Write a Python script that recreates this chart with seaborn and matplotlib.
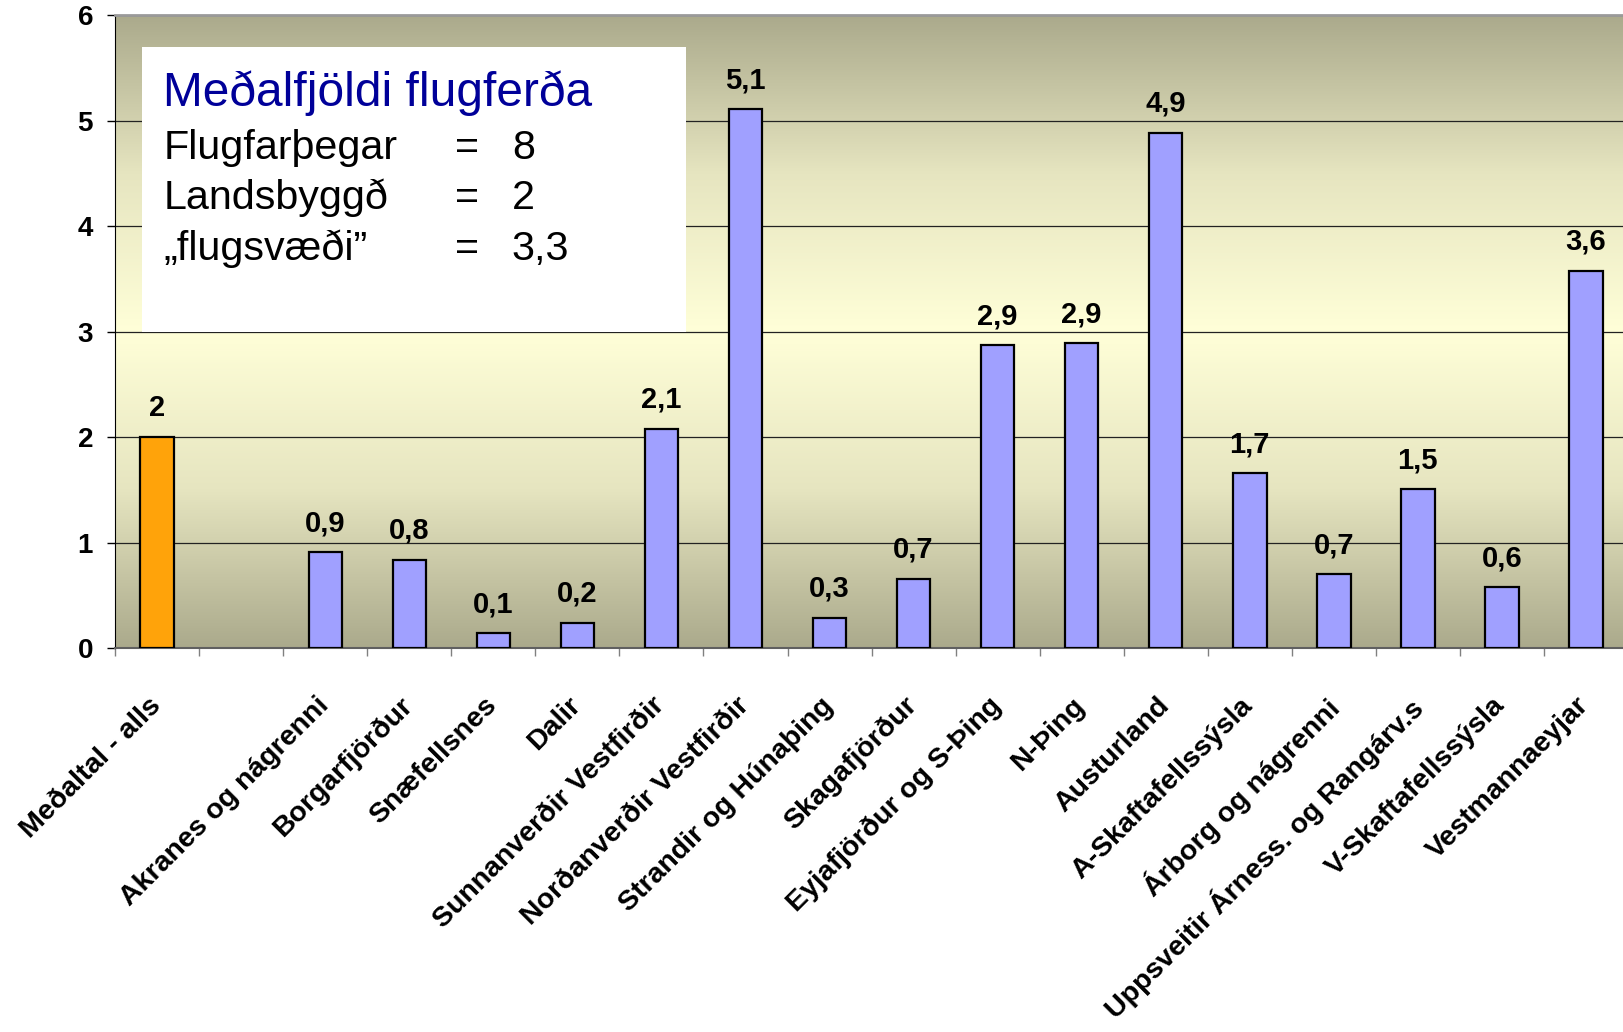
import matplotlib
matplotlib.use('Agg')
import matplotlib.pyplot as plt
import numpy as np
import pandas as pd
import seaborn as sns
from matplotlib.colors import LinearSegmentedColormap
from matplotlib.patches import Rectangle
from matplotlib.transforms import ScaledTranslation

# data
regions = ['Meðaltal - alls', 'Akranes og nágrenni', 'Borgarfjörður',
           'Snæfellsnes', 'Dalir', 'Sunnanverðir Vestfirðir',
           'Norðanverðir Vestfirðir', 'Strandir og Húnaþing',
           'Skagafjörður', 'Eyjafjörður og S-Þing', 'N-Þing', 'Austurland',
           'A-Skaftafellssýsla', 'Árborg og nágrenni',
           'Uppsveitir Árness. og Rangárv.s', 'V-Skaftafellssýsla',
           'Vestmannaeyjar']
trips = [2.0, 0.91, 0.84, 0.14, 0.24, 2.08, 5.11, 0.29, 0.66, 2.87, 2.89,
         4.89, 1.66, 0.70, 1.51, 0.58, 3.58]
# blank slot after the average bar
order = [regions[0], ''] + regions[1:]

box_title = 'Meðalfjöldi flugferða'
box_names = ['Flugfarþegar', 'Landsbyggð', '\u201eflugsvæði\u201d']
box_values = ['8', '2', '3,3']

df = pd.DataFrame({'region': regions, 'trips': trips})
palette = {r: '#A0A0FF' for r in regions}
palette[regions[0]] = '#FFA30A'

plain = ['Liberation Sans', 'DejaVu Sans']

fig = plt.figure(figsize=(16.23, 10.32), dpi=100)
ax = fig.add_axes([0.0710, 0.372, 0.932, 0.613])

# olive -> light yellow -> olive background
cmap = LinearSegmentedColormap.from_list(
    'bg', ['#ABAA8C', '#E6E5C0', '#FFFFD8', '#E6E5C0', '#ABAA8C'])
ax.imshow(np.linspace(0, 1, 256).reshape(-1, 1), cmap=cmap, aspect='auto',
          extent=[-0.5, 17.5, 0, 6], zorder=0, origin='lower')

sns.barplot(data=df, x='region', y='trips', hue='region', order=order,
            hue_order=regions, palette=palette, legend=False, width=0.4,
            edgecolor='black', linewidth=1.6, saturation=1, zorder=3, ax=ax)

ax.set_xlim(-0.5, 17.5)
ax.set_ylim(0, 6)
ax.set_xlabel('')
ax.set_ylabel('')

ax.set_axisbelow(True)
ax.yaxis.grid(True, color='#222222', linewidth=0.9)
ax.xaxis.grid(False)

ax.set_yticks(range(7))
ax.set_yticklabels([str(i) for i in range(7)], family=plain,
                   fontsize=20, fontweight='bold')
ax.tick_params(axis='y', length=6, width=1, pad=10, color='black')

ax.set_xticks(range(len(order)))
ax.set_xticklabels(order, rotation=45, ha='right', va='top',
                   rotation_mode='anchor', family=plain, fontsize=20.5,
                   fontweight='bold')
ax.set_xticks(np.arange(-0.5, 18, 1), minor=True)
ax.tick_params(axis='x', which='major', length=0, pad=32)
ax.tick_params(axis='x', which='minor', length=6, width=1, color='#808080')

ax.spines['top'].set_color('#9A9A9A')
ax.spines['top'].set_linewidth(2)
ax.spines['right'].set_visible(False)
ax.spines['left'].set_color('black')
ax.spines['bottom'].set_color('#606060')
ax.spines['bottom'].set_linewidth(1.5)

# value labels above bars
for i, (r, v) in enumerate(zip(regions, trips)):
    pos = order.index(r)
    txt = f'{v:.1f}'.replace('.', ',')
    if txt.endswith(',0'):
        txt = txt[:-2]
    ax.annotate(txt, (pos, v), xytext=(0, 15), textcoords='offset points',
                ha='center', va='baseline', family=plain, fontsize=21,
                fontweight='bold', zorder=5)

# white info box
ax.add_patch(Rectangle((-0.18, 3.0), 6.47, 2.70, facecolor='white',
                       edgecolor='none', zorder=1))
ax.text(0.07, 5.14, box_title, color='#000099', family=plain, fontsize=34.5,
        va='baseline', zorder=2)
for k, (name, val) in enumerate(zip(box_names, box_values)):
    y = 4.64 - k * 0.48
    ax.text(0.07, y, name, family=plain, fontsize=29.7, va='baseline', zorder=2)
    ax.text(3.54, y, '=', family=plain, fontsize=29.7, va='baseline', zorder=2)
    ax.text(4.22, y, val, family=plain, fontsize=29.7, va='baseline', zorder=2)

# nudge category labels a little to the left
shift = ScaledTranslation(-7 / 72, 0, fig.dpi_scale_trans)
for lbl in ax.get_xticklabels():
    lbl.set_transform(lbl.get_transform() + shift)

fig.savefig('out.png', dpi=100)
